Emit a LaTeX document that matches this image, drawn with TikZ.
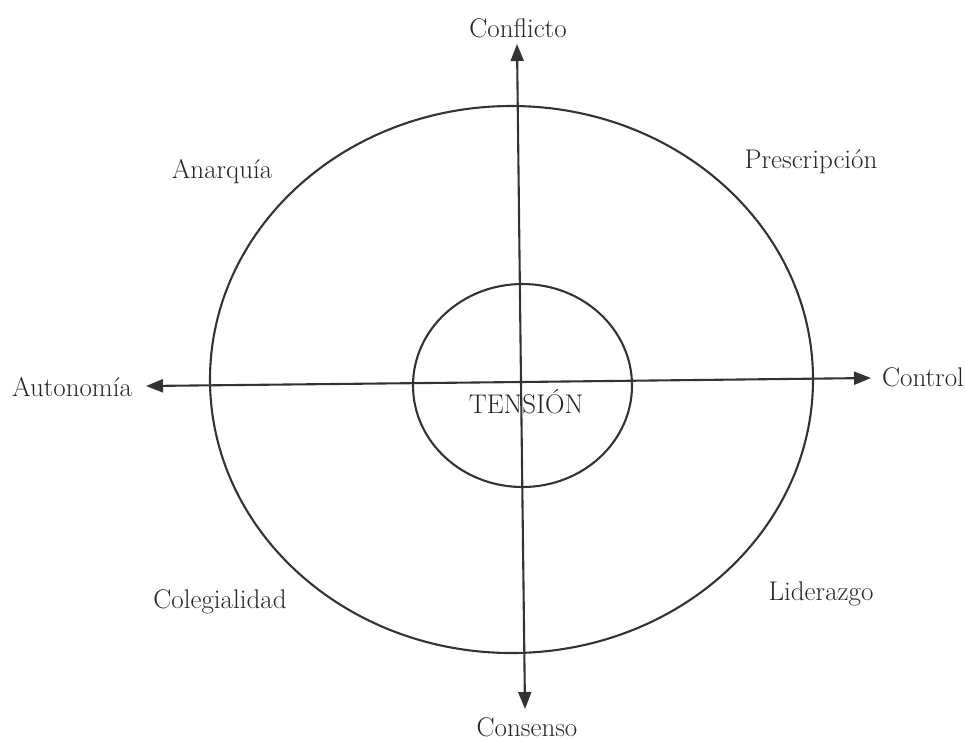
\documentclass[tikz,border=0pt]{standalone}
\usetikzlibrary{arrows.meta,shapes.geometric}
\begin{document}
\begin{tikzpicture}[x=1pt,y=-1pt,
  ink/.style={draw=black!80,line width=2.1pt},
  ring/.style={ellipse,ink,inner sep=0pt,outer sep=0pt},
  axis/.style={ink,-{Triangle[length=17pt,width=13pt]}},
  lbl/.style={text=black!85,font=\fontsize{27}{31}\selectfont,inner sep=0pt}]
\useasboundingbox (0,0) rectangle (965,740);
% rings
\node[ring,minimum width=603pt,minimum height=547pt] (outer) at (511.5,379.5) {};
\node[ring,minimum width=219pt,minimum height=203pt] (inner) at (522.5,385.5) {};
% axis ends
\coordinate (top) at (517,44);
\coordinate (bot) at (525,709);
\coordinate (lft) at (146,386);
\coordinate (rgt) at (871,378);
\coordinate (ctr) at (521,382);
% axes
\draw[axis] (ctr) -- (top);
\draw[axis] (ctr) -- (bot);
\draw[axis] (ctr) -- (lft);
\draw[axis] (ctr) -- (rgt);
% labels
\node[lbl] (conflicto) at (518,28) {Conflicto};
\node[lbl] (consenso) at (527,727) {Consenso};
\node[lbl] (autonomia) at (72,387) {Autonomía};
\node[lbl] (control) at (923,377) {Control};
\node[lbl] (tension) at (526,402) {TENSIÓN};
\node[lbl] (anarquia) at (222,172) {Anarquía};
\node[lbl] (prescripcion) at (811,162) {Prescripción};
\node[lbl] (colegialidad) at (220,602) {Colegialidad};
\node[lbl] (liderazgo) at (821,594) {Liderazgo};
\end{tikzpicture}
\end{document}
